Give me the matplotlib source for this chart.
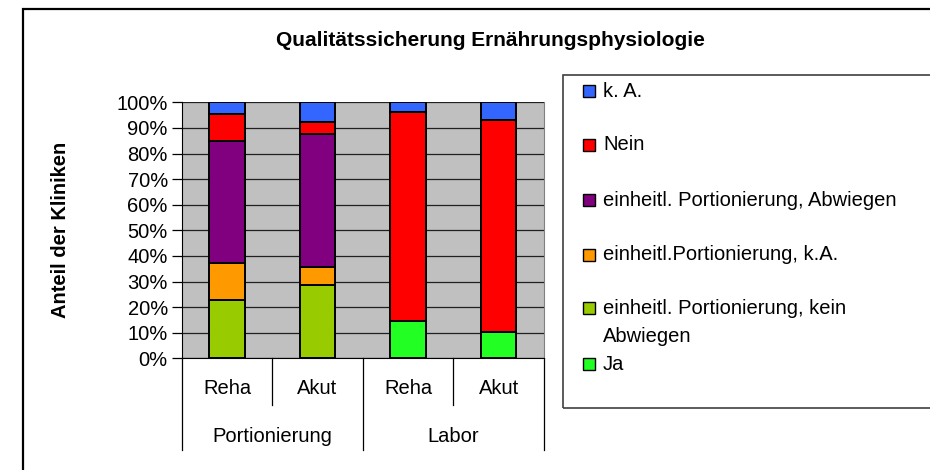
import numpy as np
import matplotlib
matplotlib.use("Agg")
import matplotlib.pyplot as plt
from matplotlib.patches import Rectangle
import matplotlib.transforms as mtransforms

plt.rcParams['font.family'] = ['Liberation Sans', 'DejaVu Sans']

title = "Qualitätssicherung Ernährungsphysiologie"
ylabel = "Anteil der Kliniken"
subcats = ["Reha", "Akut", "Reha", "Akut"]
groups = ["Portionierung", "Labor"]

# stacked bottom -> top (percent)
ja = [0.0, 0.0, 14.4, 10.1]
kein_abwiegen = [22.8, 28.7, 0.0, 0.0]
ka_portion = [14.4, 7.0, 0.0, 0.0]
abwiegen = [47.7, 51.9, 0.0, 0.0]
nein = [10.4, 4.9, 81.7, 83.1]
ka = [4.7, 7.5, 3.9, 6.8]

series_names = ["Ja", "einheitl. Portionierung, kein\nAbwiegen", "einheitl.Portionierung, k.A.",
                "einheitl. Portionierung, Abwiegen", "Nein", "k. A."]
series_vals = [ja, kein_abwiegen, ka_portion, abwiegen, nein, ka]
colors = ["#22FF22", "#99CC00", "#FF9900", "#800080", "#FF0000", "#3366FF"]

FS = 14.5
W, H = 930, 470
fig = plt.figure(figsize=(9.3, 4.7), dpi=100)

# outer frame (clipped at right/bottom like the reference)
fig.patches.append(Rectangle((23 / W, -0.1), 1.2, 1 - 9 / H + 0.1, transform=fig.transFigure,
                             fill=False, edgecolor="black", linewidth=1.6, zorder=0))

ax = fig.add_axes([181.7 / W, 1 - 358.3 / H, (544 - 181.7) / W, (358.3 - 102.3) / H])
ax.set_facecolor("#C0C0C0")

x = np.arange(len(subcats))
bottom = np.zeros(len(subcats))
for vals, col in zip(series_vals, colors):
    v = np.array(vals)
    m = v > 0
    ax.bar(x[m], v[m], bottom=bottom[m], width=0.39, color=col, edgecolor="black",
           linewidth=1.4, zorder=3)
    bottom += v

ax.set_xlim(-0.5, len(subcats) - 0.5)
ax.set_ylim(0, 100)
ax.set_yticks(np.arange(0, 101, 10))
ax.set_yticklabels([f"{t}%" for t in range(0, 101, 10)], fontsize=FS)
ax.yaxis.grid(True, color="#202020", linewidth=0.9, zorder=1)
ax.set_axisbelow(True)
ax.tick_params(axis="y", direction="out", length=7, width=0.9, pad=3)
ax.set_xticks([])
ax.spines["top"].set_visible(False)
ax.spines["right"].set_color("#808080")
ax.spines["left"].set_color("black")
ax.spines["bottom"].set_color("black")

# category axis labels and separators
trans = mtransforms.blended_transform_factory(ax.transData, ax.transAxes)
inner_y = -(405 - 358.3) / 256
outer_y = -(450 - 358.3) / 256
for i, lab in enumerate(subcats):
    ax.text(x[i], -(389 - 358.3) / 256, lab, transform=trans, ha="center", va="center",
            fontsize=FS)
for b in [0.5, 2.5]:
    ax.plot([b, b], [0, inner_y], transform=trans, color="black", lw=0.9, clip_on=False)
for b in [-0.5, 1.5, 3.5]:
    ax.plot([b, b], [0, outer_y], transform=trans, color="black", lw=0.9, clip_on=False)
for g, lab in enumerate(groups):
    ax.text(2 * g + 0.5, -(437 - 358.3) / 256, lab, transform=trans, ha="center",
            va="center", fontsize=FS)

ax.set_ylabel(ylabel, fontsize=FS, fontweight="bold", labelpad=0)
ax.yaxis.set_label_coords((70 - 181.7) / (544 - 181.7), 0.5)

fig.text(490 / W, 1 - 40 / H, title, ha="center", va="center", fontsize=15,
         fontweight="bold")

# legend (manual, Excel-like)
fig.patches.append(Rectangle((563 / W, 1 - 408 / H), 0.5, (408 - 75) / H,
                             transform=fig.transFigure, fill=False, edgecolor="#404040",
                             linewidth=1.2, zorder=1))
rows_y = [91.5, 145, 200, 255, 308, 364]  # top to bottom
for name, col, yy in zip(series_names[::-1], colors[::-1], rows_y):
    fig.patches.append(Rectangle((583 / W, 1 - (yy + 6) / H), 12 / W, 12 / H,
                                 transform=fig.transFigure, facecolor=col,
                                 edgecolor="black", linewidth=1.0, zorder=2))
    for k, line in enumerate(name.split("\n")):
        fig.text(603 / W, 1 - (yy + 28 * k) / H, line, ha="left", va="center",
                 fontsize=FS)

fig.savefig("out.png", dpi=100)
